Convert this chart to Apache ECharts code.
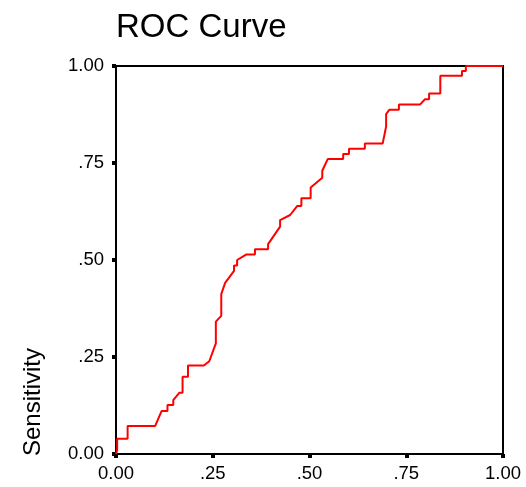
<!DOCTYPE html>
<html>
<head>
<meta charset="utf-8">
<script src="https://cdn.jsdelivr.net/npm/echarts@6/dist/echarts.min.js"></script>
<style>
  html, body { margin: 0; padding: 0; background: #fff; }
  #chart { width: 526px; height: 487px; }
</style>
</head>
<body>
<div id="chart"></div>
<script>
// 1 - Specificity (x) and Sensitivity (y)
var fpr = [0.000, 0.003, 0.003, 0.030, 0.030, 0.101, 0.118, 0.133, 0.133, 0.148, 0.148, 0.164, 0.172, 0.172, 0.186, 0.186, 0.227, 0.241, 0.258, 0.258, 0.272, 0.272, 0.282, 0.305, 0.305, 0.313, 0.313, 0.336, 0.359, 0.359, 0.393, 0.393, 0.424, 0.424, 0.450, 0.468, 0.479, 0.479, 0.503, 0.503, 0.533, 0.533, 0.547, 0.587, 0.587, 0.602, 0.602, 0.643, 0.643, 0.689, 0.698, 0.698, 0.706, 0.731, 0.731, 0.786, 0.798, 0.809, 0.809, 0.838, 0.838, 0.894, 0.894, 0.904, 0.904, 1.000];
var tpr = [0.000, 0.010, 0.039, 0.039, 0.072, 0.072, 0.111, 0.111, 0.126, 0.126, 0.139, 0.158, 0.158, 0.199, 0.199, 0.228, 0.228, 0.239, 0.285, 0.341, 0.356, 0.412, 0.441, 0.472, 0.486, 0.486, 0.500, 0.514, 0.514, 0.528, 0.528, 0.541, 0.586, 0.603, 0.616, 0.639, 0.639, 0.659, 0.659, 0.687, 0.712, 0.730, 0.760, 0.760, 0.773, 0.773, 0.787, 0.787, 0.800, 0.800, 0.844, 0.876, 0.887, 0.887, 0.901, 0.901, 0.914, 0.914, 0.929, 0.929, 0.975, 0.975, 0.987, 0.987, 1.000, 1.000];
var tickValues = [0, 0.25, 0.5, 0.75, 1];
var tickLabels = ['0.00', '.25', '.50', '.75', '1.00'];
var chartTitle = 'ROC Curve';
var yAxisTitle = 'Sensitivity';

var points = fpr.map(function (x, i) { return [x, tpr[i]]; });
function fmt(v) {
  var i = tickValues.indexOf(Math.round(v * 100) / 100);
  return i >= 0 ? tickLabels[i] : '';
}
var FONT = 'Liberation Sans, Arial, sans-serif';

var chart = echarts.init(document.getElementById('chart'), null, { renderer: 'canvas' });
chart.setOption({
  animation: false,
  backgroundColor: '#fff',
  title: {
    text: chartTitle,
    left: 111,
    top: 6,
    textStyle: { fontFamily: FONT, fontSize: 33, fontWeight: 'normal', color: '#000' }
  },
  grid: {
    left: 116, top: 66, width: 387, height: 388,
    show: true, borderColor: '#000', borderWidth: 2, backgroundColor: '#fff'
  },
  xAxis: {
    type: 'value', min: 0, max: 1, interval: 0.25,
    axisLine: { show: true, lineStyle: { color: '#000', width: 2 } },
    axisTick: { show: true, length: 4, lineStyle: { color: '#000', width: 4 } },
    axisLabel: { formatter: fmt, margin: 10, fontFamily: FONT, fontSize: 18.5, color: '#000' },
    splitLine: { show: false }
  },
  yAxis: {
    type: 'value', min: 0, max: 1, interval: 0.25,
    axisLine: { show: true, lineStyle: { color: '#000', width: 2 } },
    axisTick: { show: true, length: 4, lineStyle: { color: '#000', width: 4 } },
    axisLabel: { formatter: fmt, margin: 12, fontFamily: FONT, fontSize: 18.5, color: '#000' },
    splitLine: { show: false }
  },
  graphic: [{
    type: 'text',
    x: 33, y: 456,
    rotation: Math.PI / 2,
    style: {
      text: yAxisTitle,
      font: '24px ' + FONT,
      fill: '#000',
      textAlign: 'left',
      textVerticalAlign: 'middle'
    }
  }],
  series: [{
    type: 'line',
    data: points,
    showSymbol: false,
    symbol: 'none',
    smooth: false,
    lineStyle: { color: '#ff0000', width: 2 },
    z: 5
  }]
});
</script>
</body>
</html>
